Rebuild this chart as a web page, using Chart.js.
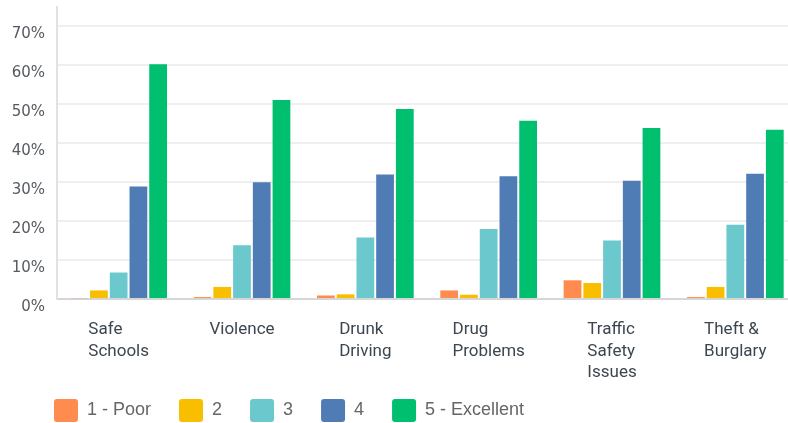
<!DOCTYPE html>
<html>
<head>
<meta charset="utf-8">
<script src="https://cdn.jsdelivr.net/npm/chart.js@4"></script>
<style>
  html, body { margin: 0; padding: 0; background: #fff; overflow: hidden; }
  #wrap { width: 800px; height: 423px; position: relative; }
</style>
</head>
<body>
<div id="wrap"><canvas id="ratingChart"></canvas></div>
<script>
const categories = [
    ['Safe', 'Schools'],
    ['Violence'],
    ['Drunk', 'Driving'],
    ['Drug', 'Problems'],
    ['Traffic', 'Safety', 'Issues'],
    ['Theft &', 'Burglary']
];
const seriesNames = ['1 - Poor', '2', '3', '4', '5 - Excellent'];
const poor      = [0.2, 0.5, 0.9, 2.2, 4.8, 0.5];
const two       = [2.2, 3.1, 1.2, 1.1, 4.1, 3.1];
const three     = [6.8, 13.8, 15.8, 18.0, 15.0, 19.1];
const four      = [28.9, 30.0, 32.0, 31.5, 30.4, 32.2];
const excellent = [60.3, 51.1, 48.8, 45.8, 43.9, 43.5];
const yTicks = [0, 10, 20, 30, 40, 50, 60, 70];

const colors = ['#ff8b4f', '#f9be00', '#6bc8cd', '#507cb6', '#00bf6f'];
const seriesValues = [poor, two, three, four, excellent];

// draw the category labels as left-aligned blocks centred on each group
const categoryLabels = {
    id: 'categoryLabels',
    afterLayout(chart) {
        // legend starts a bit in from the left edge
        chart.legend.left += 26;
    },
    afterDraw(chart) {
        const ctx = chart.ctx;
        const xScale = chart.scales.x;
        ctx.save();
        ctx.font = '17px Roboto';
        ctx.fillStyle = '#3c4650';
        ctx.textAlign = 'left';
        ctx.textBaseline = 'alphabetic';
        categories.forEach((lines, i) => {
            const center = xScale.getPixelForValue(i);
            const maxW = Math.max(...lines.map(l => ctx.measureText(l).width));
            const left = center - maxW / 2;
            lines.forEach((line, j) => {
                ctx.fillText(line, left, xScale.top + 35 + j * 21.5);
            });
        });
        ctx.restore();
    }
};

const ctx = document.getElementById('ratingChart').getContext('2d');
new Chart(ctx, {
    type: 'bar',
    data: {
        labels: categories,
        datasets: seriesNames.map((name, i) => ({
            label: name,
            data: seriesValues[i],
            backgroundColor: colors[i],
            borderWidth: 0,
            categoryPercentage: 0.8,
            barPercentage: 0.9
        }))
    },
    options: {
        responsive: true,
        maintainAspectRatio: false,
        animation: false,
        layout: { padding: { left: 0, top: 7, right: 3, bottom: -9 } },
        scales: {
            x: {
                grid: { display: false },
                border: { color: '#d6d6d6', width: 2 },
                ticks: { color: 'rgba(0,0,0,0)', font: { size: 17, family: 'Roboto' } },
                afterFit(scale) {
                    scale.height = 72;
                    scale.paddingLeft = 0;
                    scale.paddingRight = 0;
                }
            },
            y: {
                min: 0,
                max: 75,
                grid: { color: '#efefef', lineWidth: 2, drawTicks: false },
                border: { color: '#e2e2e2', width: 2 },
                ticks: {
                    stepSize: 10,
                    padding: 12,
                    labelOffset: 8,
                    color: '#555a60',
                    font: { size: 15, family: 'DejaVu Sans' },
                    callback: v => v + '%'
                },
                afterBuildTicks(scale) {
                    scale.ticks = yTicks.map(v => ({ value: v }));
                },
                afterFit(scale) {
                    scale.width = 57;
                    scale.paddingTop = 0;
                    scale.paddingBottom = 0;
                }
            }
        },
        plugins: {
            legend: {
                position: 'bottom',
                align: 'start',
                labels: {
                    boxWidth: 24,
                    boxHeight: 23,
                    padding: 28,
                    useBorderRadius: true,
                    borderRadius: 3,
                    color: '#666',
                    font: { size: 18, family: 'Liberation Sans' }
                }
            },
            tooltip: { enabled: false }
        }
    },
    plugins: [categoryLabels]
});
</script>
</body>
</html>
